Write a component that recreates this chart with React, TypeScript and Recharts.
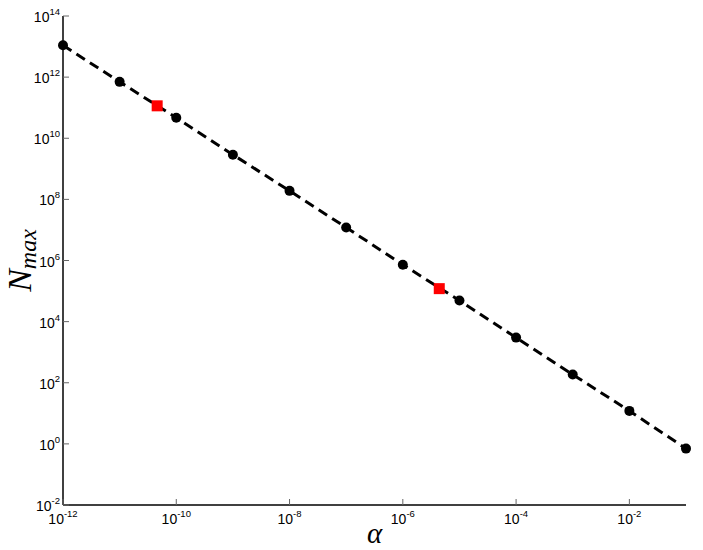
import { ComposedChart, Line, Scatter, XAxis, YAxis, Label } from 'recharts';

const alphaValues = [1e-12, 1e-11, 1e-10, 1e-9, 1e-8, 1e-7, 1e-6, 1e-5, 1e-4, 1e-3, 1e-2, 1e-1];
const nMaxValues = [1.1e13, 7e11, 4.7e10, 2.9e9, 1.9e8, 1.2e7, 7.3e5, 4.9e4, 3e3, 186, 12, 0.7];
const markedAlpha = [4.6e-11, 4.4e-6];
const markedNMax = [1.15e11, 1.2e5];
const xTicks = [1e-12, 1e-10, 1e-8, 1e-6, 1e-4, 1e-2];
const yTicks = [1e-2, 1, 1e2, 1e4, 1e6, 1e8, 1e10, 1e12, 1e14];

const fitData = alphaValues.map((a, i) => ({ alpha: a, n: nMaxValues[i] }));
const markedData = markedAlpha.map((a, i) => ({ alpha: a, n: markedNMax[i] }));

const tickFont = '"Liberation Sans", Arial, sans-serif';
const mathFont = '"Liberation Serif", "Times New Roman", serif';

const exponent = (v: number) => Math.round(Math.log10(v));

function BottomTick({ x, y, payload }: any) {
  return (
    <g>
      <line x1={x} y1={y} x2={x} y2={y - 6} stroke="#666" strokeWidth={1} />
      <text x={x} y={y + 19} textAnchor="middle" fontFamily={tickFont} fontSize={14} fill="#000">
        10<tspan dy={-7} fontSize={9.5}>{exponent(payload.value)}</tspan>
      </text>
    </g>
  );
}

function LeftTick({ x, y, payload }: any) {
  return (
    <g>
      <line x1={x} y1={y} x2={x + 6} y2={y} stroke="#666" strokeWidth={1} />
      <text x={x - 3} y={y + 6} textAnchor="end" fontFamily={tickFont} fontSize={14} fill="#000">
        10<tspan dy={-7} fontSize={9.5}>{exponent(payload.value)}</tspan>
      </text>
    </g>
  );
}

function TopTick({ x, y }: any) {
  return <line x1={x} y1={y} x2={x} y2={y + 6} stroke="#666" strokeWidth={1} />;
}

function RightTick({ x, y }: any) {
  return <line x1={x} y1={y} x2={x - 6} y2={y} stroke="#666" strokeWidth={1} />;
}

const renderDot = (props: any) => (
  <circle key={`dot-${props.index}`} cx={props.cx} cy={props.cy} r={5} fill="#000" stroke="none" />
);

const renderSquare = (props: any) => (
  <rect x={props.cx - 5.5} y={props.cy - 5.5} width={11} height={11} fill="#ff0000" stroke="none" />
);

export default function App() {
  return (
    <div style={{ position: 'absolute', left: 0, top: 0, background: '#fff' }}>
      <ComposedChart width={703} height={550} margin={{ top: 16, right: 17, left: 0, bottom: 0 }}>
        <XAxis
          dataKey="alpha"
          type="number"
          scale="log"
          domain={[1e-12, 1e-1]}
          ticks={xTicks}
          interval={0}
          tick={<BottomTick />}
          tickLine={false}
          tickSize={0}
          tickMargin={0}
          height={45}
          axisLine={{ stroke: '#000', strokeWidth: 1.5 }}
        >
          <Label
            content={({ viewBox }: any) => (
              <text
                x={viewBox.x + viewBox.width / 2}
                y={viewBox.y + 38}
                textAnchor="middle"
                fontFamily={mathFont}
                fontStyle="italic"
                fontSize={29}
                fill="#000"
              >
                α
              </text>
            )}
          />
        </XAxis>
        <XAxis
          xAxisId="top"
          orientation="top"
          dataKey="alpha"
          type="number"
          scale="log"
          domain={[1e-12, 1e-1]}
          ticks={xTicks}
          interval={0}
          tick={<TopTick />}
          tickLine={false}
          tickSize={0}
          tickMargin={0}
          height={0}
          axisLine={{ stroke: '#000', strokeWidth: 1.5 }}
        />
        <YAxis
          dataKey="n"
          type="number"
          scale="log"
          domain={[1e-2, 1e14]}
          ticks={yTicks}
          interval={0}
          tick={<LeftTick />}
          tickLine={false}
          tickSize={0}
          tickMargin={0}
          width={63}
          axisLine={{ stroke: '#000', strokeWidth: 1.5 }}
        >
          <Label
            content={({ viewBox }: any) => {
              const cx = 31;
              const cy = viewBox.y + viewBox.height / 2;
              return (
                <text
                  x={cx}
                  y={cy}
                  transform={`rotate(-90, ${cx}, ${cy})`}
                  textAnchor="middle"
                  fontFamily={mathFont}
                  fontStyle="italic"
                  fontSize={34}
                  fill="#000"
                >
                  N<tspan dy={5} fontSize={24}>max</tspan>
                </text>
              );
            }}
          />
        </YAxis>
        <YAxis
          yAxisId="right"
          orientation="right"
          type="number"
          scale="log"
          domain={[1e-2, 1e14]}
          ticks={yTicks}
          interval={0}
          tick={<RightTick />}
          tickLine={false}
          tickSize={0}
          tickMargin={0}
          width={0}
          axisLine={{ stroke: '#000', strokeWidth: 1.5 }}
        />
        <Line
          data={fitData}
          dataKey="n"
          type="linear"
          stroke="#000"
          strokeWidth={3}
          strokeDasharray="10 6"
          dot={renderDot}
          activeDot={false}
          isAnimationActive={false}
        />
        <Scatter data={markedData} dataKey="n" shape={renderSquare} isAnimationActive={false} />
      </ComposedChart>
    </div>
  );
}
